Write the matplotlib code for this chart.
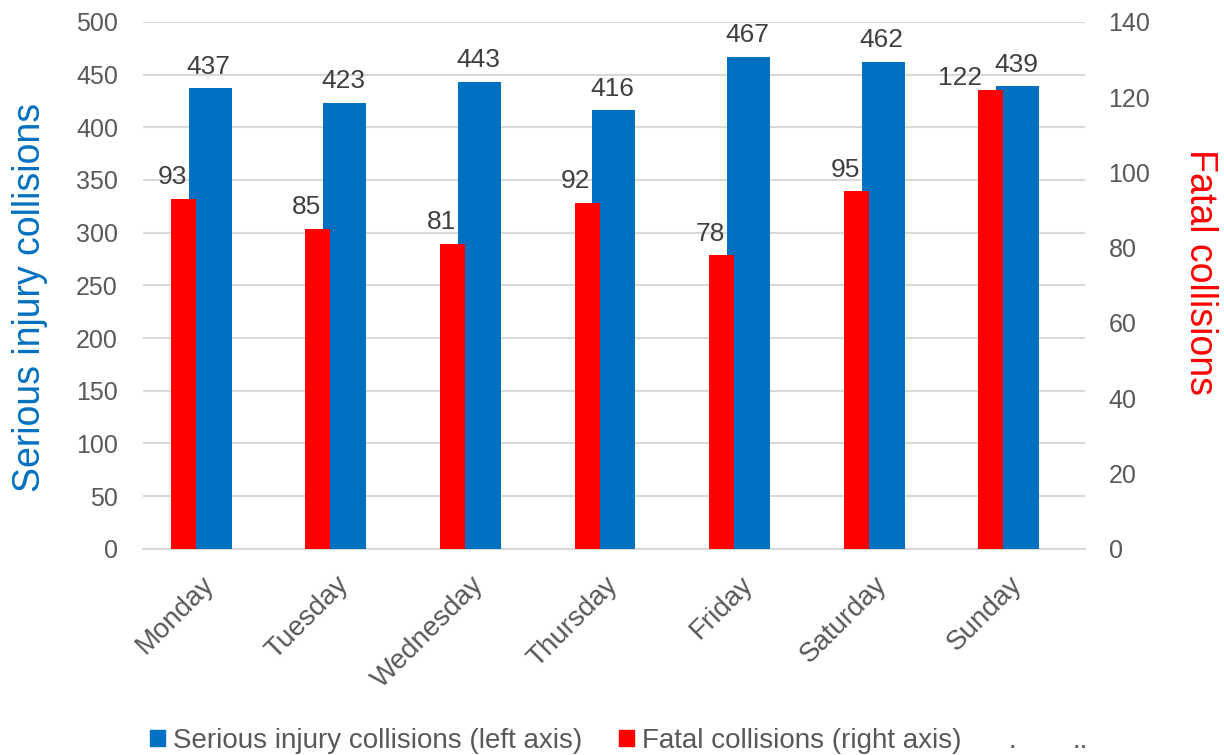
import numpy as np
import matplotlib.pyplot as plt
from matplotlib.patches import Patch

plt.rcParams['font.family'] = ['Liberation Sans', 'DejaVu Sans']

days = ["Monday", "Tuesday", "Wednesday", "Thursday", "Friday", "Saturday", "Sunday"]
serious = [437, 423, 443, 416, 467, 462, 439]
fatal = [93, 85, 81, 92, 78, 95, 122]

blue = "#0070C0"
red = "#FF0000"
grey_txt = "#595959"
lbl_txt = "#404040"

x = np.arange(len(days))

fig = plt.figure(figsize=(12.24, 7.55), dpi=100)
ax = fig.add_axes([0.1168, 0.2732, 0.7696, 0.6977])
ax2 = ax.twinx()

# blue bars on left axis, red bars (right axis) drawn over them
b1 = ax.bar(x, serious, width=0.32, color=blue, zorder=3)
b2 = ax2.bar(x - 0.20, fatal, width=0.186, color=red, zorder=3)

ax.set_xlim(-0.5, 6.5)
ax.set_ylim(0, 500)
ax2.set_ylim(0, 140)
ax.set_yticks(range(0, 501, 50))
ax2.set_yticks(range(0, 141, 20))

ax.grid(axis="y", color="#D9D9D9", linewidth=1.5, zorder=0)
ax.set_axisbelow(True)
for a in (ax, ax2):
    for s in a.spines.values():
        s.set_visible(False)
    a.tick_params(length=0, labelsize=18, labelcolor=grey_txt)
ax.spines["bottom"].set_visible(True)
ax.spines["bottom"].set_color("#D9D9D9")
ax.spines["bottom"].set_linewidth(1.5)

ax.set_xticks(x)
ax.set_xticklabels(days, rotation=45, ha="right", va="center", rotation_mode="anchor", fontsize=20)
ax.tick_params(axis="x", pad=23)
ax.tick_params(axis="y", pad=18)
ax2.tick_params(axis="y", pad=17)

fig.text(30 / 1224, 1 - 297 / 755, "Serious injury collisions", fontsize=27, color=blue,
         rotation=90, ha="center", va="center")
fig.text(1200 / 1224, 1 - 272 / 755, "Fatal collisions", fontsize=27, color=red,
         rotation=270, ha="center", va="center")

# data labels
for bar, v in zip(b1, serious):
    ax.annotate(str(v), (bar.get_x() + bar.get_width() / 2, v),
                xytext=(-1, 7), textcoords="offset points",
                ha="center", va="bottom", fontsize=19, color=lbl_txt)
# Excel nudged the Sunday label left/down so it does not clash with 439
nudge = {"Sunday": (-22, 0)}
for d, bar, v in zip(days, b2, fatal):
    dx, dy = nudge.get(d, (-8, 7))
    ax2.annotate(str(v), (bar.get_x() + bar.get_width() / 2, v),
                 xytext=(dx, dy), textcoords="offset points",
                 ha="center", va="bottom", fontsize=19, color=lbl_txt)

handles = [Patch(color=blue), Patch(color=red)]
labels = ["Serious injury collisions (left axis)", "Fatal collisions (right axis)"]
fig.legend(handles, labels, loc="center", bbox_to_anchor=(0.4539, 0.019), ncol=2,
           frameon=False, fontsize=20, labelcolor=grey_txt,
           handlelength=0.54, handleheight=0.54, handletextpad=0.29, columnspacing=1.3,
           borderpad=0)
fig.text(1012 / 1224, 0.019, ".", fontsize=20, color=grey_txt, ha="center", va="center")
fig.text(1080 / 1224, 0.019, "..", fontsize=20, color=grey_txt, ha="center", va="center")

fig.savefig("out.png", dpi=100)
